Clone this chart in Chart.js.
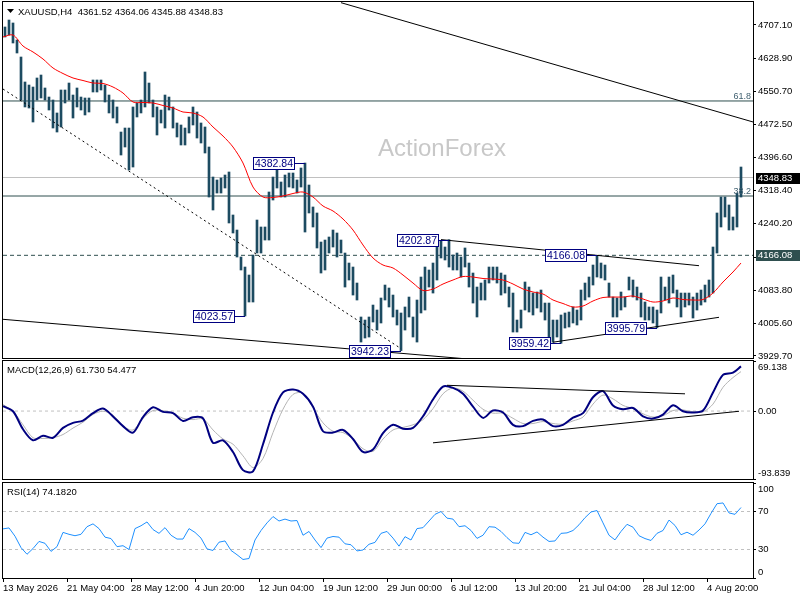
<!DOCTYPE html>
<html>
<head>
<meta charset="utf-8">
<script src="https://cdn.jsdelivr.net/npm/chart.js@4.4.1/dist/chart.umd.min.js"></script>
<style>
  html, body { margin: 0; padding: 0; background: #fff; }
  #wrap { position: relative; width: 800px; height: 600px; overflow: hidden; }
  canvas { position: absolute; left: 0; }
</style>
</head>
<body>
<div id="wrap">
  <canvas id="price" width="800" height="360" style="top:0px"></canvas>
  <canvas id="macd" width="800" height="122" style="top:360px"></canvas>
  <canvas id="rsi" width="800" height="118" style="top:482px"></canvas>
</div>
<script>
const FONT = '"Liberation Sans", Arial, sans-serif';
const BAR_COLOR = '#1d4b61';
const SLATE = '#2f4f4f';
const NAVY = '#000080';

// time axis: one label every 32 H4 bars
const timeLabels = ['13 May 2026', '21 May 04:00', '28 May 12:00', '4 Jun 20:00', '12 Jun 04:00',
  '19 Jun 12:00', '29 Jun 00:00', '6 Jul 12:00', '13 Jul 20:00', '21 Jul 04:00', '28 Jul 12:00', '4 Aug 20:00'];
const LABEL_EVERY = 32;
const LAST_BAR = 369;
const X_MAX = 375;

// price bars, each one covers two H4 bars (bar index 2k+1)
const barHigh = [4702.4, 4718.8, 4711.8, 4671.8, 4631.9, 4573.2, 4566.1, 4561.4, 4582.6, 4589.6,
  4559.1, 4537.9, 4530.9, 4500.4, 4554.4, 4554.4, 4570.8, 4542.6, 4559.1, 4537.9,
  4535.6, 4535.6, 4577.9, 4577.9, 4577.9, 4566.1, 4542.6, 4530.9, 4514.5, 4455.7,
  4465.1, 4465.1, 4514.5, 4523.9, 4530.9, 4596.7, 4570.8, 4530.9, 4514.5, 4507.4,
  4542.6, 4537.9, 4514.5, 4476.9, 4472.2, 4465.1, 4491.0, 4514.5, 4502.7, 4476.9,
  4467.5, 4420.5, 4350.0, 4343.0, 4347.7, 4354.7, 4361.8, 4260.8, 4225.5, 4162.1,
  4138.6, 4119.8, 4166.8, 4249.0, 4232.6, 4232.6, 4314.8, 4350.0, 4371.2, 4338.3,
  4354.7, 4359.4, 4359.4, 4343.0, 4371.2, 4382.84, 4331.2, 4279.6, 4265.5, 4197.3,
  4202.0, 4209.1, 4225.5, 4218.5, 4202.0, 4171.5, 4148.0, 4138.6, 4101.0, 4021.2,
  4014.1, 4021.2, 4049.3, 4037.6, 4065.8, 4096.3, 4089.3, 4072.8, 4037.6, 4030.6,
  4044.7, 4068.1, 4021.2, 4061.1, 4115.1, 4138.6, 4131.6, 4148.0, 4190.3, 4200.5,
  4185.6, 4202.87, 4166.8, 4171.5, 4162.1, 4183.3, 4148.0, 4124.5, 4091.6, 4101.0,
  4108.1, 4138.6, 4138.6, 4138.6, 4124.5, 4119.8, 4091.6, 4077.5, 4014.1, 4037.6,
  4103.4, 4091.6, 4077.5, 4079.9, 4084.6, 4054.0, 4054.0, 4014.1, 4014.1, 4025.9,
  4030.6, 4032.9, 4044.7, 4037.6, 4084.6, 4101.0, 4115.1, 4143.3, 4166.08, 4148.0,
  4143.3, 4101.0, 4068.1, 4065.8, 4079.9, 4068.1, 4115.1, 4108.1, 4091.6, 4077.5,
  4056.4, 4044.7, 4044.7, 4037.6, 4115.1, 4091.6, 4115.1, 4119.8, 4084.6, 4077.5,
  4077.5, 4077.5, 4068.1, 4077.5, 4084.6, 4096.3, 4108.1, 4185.6, 4265.5, 4303.0,
  4303.0, 4284.3, 4256.1, 4312.4, 4373.5];
const barLow = [4678.9, 4683.6, 4664.8, 4641.3, 4530.9, 4514.5, 4512.1, 4479.2, 4530.9, 4535.6,
  4530.9, 4507.4, 4465.1, 4455.7, 4467.5, 4523.9, 4530.9, 4488.6, 4514.5, 4507.4,
  4495.7, 4502.7, 4549.7, 4549.7, 4554.4, 4526.2, 4500.4, 4488.6, 4476.9, 4401.7,
  4420.5, 4366.5, 4373.5, 4491.0, 4500.4, 4514.5, 4523.9, 4491.0, 4448.7, 4476.9,
  4465.1, 4507.4, 4465.1, 4444.0, 4425.2, 4425.2, 4453.4, 4472.2, 4441.6, 4429.9,
  4406.4, 4303.0, 4272.5, 4312.4, 4312.4, 4324.2, 4242.0, 4218.5, 4162.1, 4131.6,
  4023.57, 4056.4, 4056.4, 4171.5, 4171.5, 4202.0, 4202.0, 4296.0, 4324.2, 4303.0,
  4303.0, 4326.5, 4324.2, 4312.4, 4326.5, 4220.8, 4265.5, 4232.6, 4183.3, 4124.5,
  4131.6, 4171.5, 4185.6, 4162.1, 4171.5, 4091.6, 4108.1, 4072.8, 4061.1, 3962.4,
  3971.8, 3974.2, 4009.4, 3990.6, 4007.1, 4061.1, 4044.7, 4021.2, 4002.4, 3942.23,
  3990.6, 4021.2, 3974.2, 3962.4, 4030.6, 4037.6, 4091.6, 4077.5, 4108.1, 4159.8,
  4155.1, 4138.6, 4131.6, 4131.6, 4115.1, 4138.6, 4091.6, 4054.0, 4021.2, 4061.1,
  4061.1, 4101.0, 4108.1, 4101.0, 4072.8, 4077.5, 4044.7, 3985.9, 3985.9, 3995.3,
  4037.6, 4032.9, 4025.9, 4042.3, 4032.9, 4014.1, 3974.2, 3962.0, 3974.2, 3959.42,
  3995.3, 3997.7, 4007.1, 4002.4, 4014.1, 4061.1, 4068.1, 4096.3, 4115.1, 4112.8,
  4108.1, 4068.1, 4021.2, 4021.2, 4037.6, 4044.7, 4084.6, 4068.1, 4061.1, 4021.2,
  4014.1, 4014.1, 4007.1, 3995.79, 4030.6, 4061.1, 4054.0, 4077.5, 4044.7, 4021.2,
  4044.7, 4049.3, 4018.8, 4037.6, 4049.3, 4056.4, 4068.1, 4077.5, 4171.5, 4232.6,
  4256.1, 4225.5, 4225.5, 4232.6, 4303.0];
const lastBar = { open: 4361.52, high: 4364.06, low: 4345.88, close: 4348.83 };

// moving average, MACD and signal: every 5 bars
const maValues = [4678.9, 4683.6, 4657.7, 4643.7, 4627.2, 4606.1, 4593.1, 4582.6, 4576.7, 4570.8,
  4569.7, 4561.4, 4547.3, 4526.2, 4525.0, 4523.9, 4518.0, 4512.1, 4502.7, 4500.4,
  4491.0, 4467.5, 4446.3, 4420.5, 4382.9, 4326.5, 4303.0, 4301.9, 4305.4, 4311.3,
  4314.8, 4303.0, 4281.9, 4270.2, 4251.4, 4225.5, 4190.3, 4159.8, 4143.3, 4136.3,
  4119.8, 4101.0, 4083.4, 4087.0, 4098.7, 4108.1, 4116.3, 4115.1, 4111.6, 4110.4,
  4108.1, 4098.7, 4087.0, 4079.9, 4075.2, 4061.1, 4052.9, 4044.7, 4047.0, 4058.8,
  4067.0, 4068.1, 4068.1, 4070.5, 4063.5, 4056.4, 4058.8, 4065.8, 4062.3, 4061.1,
  4062.3, 4077.5, 4103.4, 4126.9, 4148.0];
const macdMain = [6.7, -0.3, -25.2, -40.4, -34.2, -36.9, -23.2, -16.3, -13.1, -2.9,
  3.4, -7.4, -20.8, -29.7, -8.3, 5.2, -1.1, -2.9, -13.6, -8.5,
  -10.0, -43.9, -40.4, -56.5, -81.6, -83.3, -45.8, -2.0, 25.7, 29.7,
  23.9, 6.1, -27.9, -29.7, -26.1, -38.6, -56.5, -53.0, -30.6, -19.0,
  -24.3, -23.2, -7.2, 15.9, 33.8, 32.0, 23.9, 6.1, -9.4, 0.7,
  -2.0, -19.0, -20.8, -13.6, -11.7, -20.8, -19.0, -9.1, -2.9, 19.1,
  27.5, 7.8, 2.5, 4.3, -7.2, -10.4, -4.9, 8.0, -0.3, -2.0,
  0.7, 25.7, 50.0, 53.0, 61.73];
const macdSignal = [9.0, -0.2, -19.0, -36.9, -37.8, -36.9, -32.4, -23.5, -15.4, -4.7,
  -0.2, -5.6, -20.8, -26.1, -10.0, 0.7, 0.7, -2.9, -10.0, -11.8,
  -10.9, -26.1, -38.6, -45.8, -61.9, -78.0, -65.5, -29.7, 2.5, 23.0,
  24.8, 4.3, -16.3, -27.9, -29.7, -38.6, -52.1, -55.6, -38.6, -26.1,
  -22.6, -19.0, -11.8, 3.4, 23.9, 32.0, 27.5, 15.0, 2.5, -2.9,
  -2.9, -10.0, -17.2, -17.2, -14.5, -17.2, -18.1, -13.6, -8.3, 9.6,
  22.1, 16.8, 7.8, 3.4, -3.8, -8.3, -6.5, 0.7, 1.6, -1.1,
  -1.1, 9.6, 32.9, 46.3, 54.477];
const macdTop = 69.138, macdBottom = -93.839;

// RSI(14): every 3 bars
const rsiValues = [51.7, 52.7, 44, 32, 25, 31, 38.5, 36.5, 28, 33,
  48, 46, 44.5, 46, 54, 57, 52, 43, 41.5, 33,
  34, 30, 52, 55, 59, 51, 47, 53, 45, 41,
  41, 52, 48, 42, 30.6, 29, 37.7, 39, 29, 24.5,
  19.5, 20.5, 40, 50, 58, 64.7, 60, 62, 60, 60.5,
  45, 49, 40, 32, 42, 43.7, 43, 36, 35, 28.5,
  29.5, 35.5, 37.5, 47, 49, 42, 33.5, 43.5, 40, 52,
  53, 60, 67, 70, 63, 62, 54, 55, 50, 41.7,
  45, 54, 53.5, 49, 42.5, 37, 36.5, 48, 45.5, 48.5,
  43, 38.5, 39, 47, 47.5, 50, 56, 63.5, 69.5, 71,
  58, 45, 40.1, 49, 56.5, 53.5, 44.5, 41.5, 39.5, 47,
  50, 61, 55.3, 45.5, 48.2, 45, 50.5, 57, 68, 78.2,
  79, 68.5, 67, 74.182];
const rsiLevels = [30, 70];

const priceMin = 3924.9, priceMax = 4761.1;
const priceTicks = [4707.10, 4628.90, 4550.70, 4472.50, 4396.60, 4318.40, 4240.20, 4162.00, 4083.80, 4005.60, 3929.70];
const fibLevels = [{ label: '61.8', price: 4528.6 }, { label: '38.2', price: 4305.4 }];
const keyLevel = 4166.08;
const swingLabels = [
  { bar: 151, price: 4382.84 }, { bar: 121, price: 4023.57 }, { bar: 223, price: 4202.87 },
  { bar: 199, price: 3942.23 }, { bar: 297, price: 4166.08 }, { bar: 279, price: 3959.42 },
  { bar: 327, price: 3995.79 }
];
const priceTrendlines = [
  { from: [169, 4759.5], to: [375, 4479.3] },
  { from: [0, 4556.7], to: [199, 3947.0], dotted: true },
  { from: [0, 4015.8], to: [230, 3923.5] },
  { from: [219, 4203.0], to: [348, 4141.7] },
  { from: [275, 3962.0], to: [358, 4020.5] }
];
const macdTrendlines = [
  { from: [222, 35.6], to: [341, 23.8] },
  { from: [215, -43.9], to: [368, -0.3] }
];

Chart.defaults.font.family = FONT;
Chart.defaults.font.size = 9.5;
Chart.defaults.color = '#000';
Chart.defaults.animation = false;
Chart.defaults.responsive = false;
Chart.defaults.devicePixelRatio = 1;
Chart.defaults.plugins.legend.display = false;
Chart.defaults.plugins.tooltip.enabled = false;
Chart.defaults.elements.point.radius = 0;
Chart.defaults.elements.line.borderWidth = 1;

function xAxis(withLabels) {
  return {
    type: 'linear', min: 0, max: X_MAX, offset: false, display: withLabels,
    afterBuildTicks: s => { s.ticks = timeLabels.map((t, n) => ({ value: n * LABEL_EVERY })); },
    afterFit: s => { s.paddingLeft = 0; s.paddingRight = 0; if (withLabels) s.height = 22; },
    grid: { drawOnChartArea: false, offset: false, tickLength: 4, color: '#000' },
    border: { display: false },
    ticks: { align: 'start', autoSkip: false, maxRotation: 0, padding: 1, callback: (v, n) => timeLabels[n] }
  };
}

function yAxis(min, max, values, label) {
  return {
    position: 'right', min: min, max: max,
    afterBuildTicks: s => { s.ticks = values.slice().sort((p, q) => p - q).map(v => ({ value: v })); },
    afterFit: s => { s.width = 47; s.paddingTop = 0; s.paddingBottom = 0; },
    grid: { drawOnChartArea: false, tickLength: 3, color: '#000' },
    border: { display: false },
    ticks: { padding: 2, callback: label }
  };
}

function level(value, color, dash) {
  return { type: 'line', data: [{ x: 0, y: value }, { x: X_MAX, y: value }],
    borderColor: color, borderDash: dash, order: 5 };
}

function trend(t) {
  return { type: 'line', data: [{ x: t.from[0], y: t.from[1] }, { x: t.to[0], y: t.to[1] }],
    borderColor: '#000', borderDash: t.dotted ? [2, 3] : [], order: 1 };
}

function frame(ctx, a) {
  ctx.strokeStyle = '#000';
  ctx.lineWidth = 1;
  ctx.strokeRect(a.left - 0.5, a.top - 0.5, a.width + 1, a.height + 1);
}

const priceDecor = {
  id: 'priceDecor',
  beforeDatasetsDraw(chart) {
    const { ctx, chartArea: a } = chart;
    ctx.save();
    ctx.font = '24px ' + FONT;
    ctx.fillStyle = '#c8c8c8';
    ctx.fillText('ActionForex', a.left + 375, a.top + 154);
    ctx.restore();
  },
  afterDraw(chart) {
    const { ctx, chartArea: a, scales: { x, y } } = chart;
    ctx.save();
    frame(ctx, a);

    // header
    ctx.fillStyle = '#000';
    ctx.beginPath();
    ctx.moveTo(a.left + 4, a.top + 7);
    ctx.lineTo(a.left + 11, a.top + 7);
    ctx.lineTo(a.left + 7.5, a.top + 11);
    ctx.closePath();
    ctx.fill();
    ctx.font = '9.5px ' + FONT;
    ctx.textBaseline = 'alphabetic';
    const ohlc = [lastBar.open, lastBar.high, lastBar.low, lastBar.close].map(v => v.toFixed(2)).join(' ');
    ctx.fillText('XAUUSD,H4  ' + ohlc, a.left + 15, a.top + 12.5);

    // fibo level names
    ctx.font = '9px ' + FONT;
    ctx.fillStyle = '#3f5f6f';
    ctx.textAlign = 'right';
    fibLevels.forEach(f => ctx.fillText(f.label, a.right - 2, y.getPixelForValue(f.price) - 2));

    // swing high / low boxes
    ctx.font = '10.5px ' + FONT;
    ctx.textAlign = 'center';
    ctx.textBaseline = 'middle';
    ctx.lineWidth = 1;
    swingLabels.forEach(s => {
      const px = Math.round(x.getPixelForValue(s.bar));
      const py = Math.round(y.getPixelForValue(s.price));
      const text = s.price.toFixed(2);
      const w = Math.round(ctx.measureText(text).width) + 4;
      const right = px - 10;
      ctx.strokeStyle = NAVY;
      ctx.beginPath();
      ctx.moveTo(right, py + 0.5);
      ctx.lineTo(px, py + 0.5);
      ctx.stroke();
      ctx.fillStyle = '#fff';
      ctx.fillRect(right - w, py - 6, w, 12);
      ctx.strokeRect(right - w + 0.5, py - 5.5, w - 1, 12);
      ctx.fillStyle = NAVY;
      ctx.fillText(text, right - w / 2, py + 1);
    });

    // price marks on the right axis
    ctx.font = '9.5px ' + FONT;
    ctx.textAlign = 'left';
    [[lastBar.close, '#000'], [keyLevel, SLATE]].forEach(([v, bg]) => {
      const py = Math.round(y.getPixelForValue(v));
      ctx.fillStyle = bg;
      ctx.fillRect(a.right + 3, py - 5, chart.width - a.right - 3, 11);
      ctx.fillStyle = '#fff';
      ctx.fillText(v.toFixed(2), a.right + 5, py + 0.5);
    });
    ctx.restore();
  }
};

function panelDecor(id, title, edges) {
  return {
    id: id,
    afterDraw(chart) {
      const { ctx, chartArea: a } = chart;
      ctx.save();
      frame(ctx, a);
      ctx.fillStyle = '#000';
      ctx.font = '9.5px ' + FONT;
      ctx.textAlign = 'left';
      ctx.textBaseline = 'alphabetic';
      ctx.fillText(title, a.left + 4, a.top + 12.3);
      ctx.textBaseline = 'middle';
      ctx.fillText(edges[0], a.right + 5, a.top + 6.7);
      ctx.fillText(edges[1], a.right + 5, a.bottom - 5.5);
      ctx.restore();
    }
  };
}

// price panel
new Chart(document.getElementById('price'), {
  type: 'bar',
  data: {
    datasets: [
      ...fibLevels.map(f => level(f.price, SLATE, [])),
      level(keyLevel, SLATE, [4, 3]),
      level(lastBar.close, '#c0c0c0', []),
      { type: 'bar', data: barLow.map((lo, k) => ({ x: 2 * k + 1, y: [lo, barHigh[k]] })),
        backgroundColor: BAR_COLOR, barThickness: 2, borderWidth: 0, order: 3 },
      { type: 'line', data: maValues.map((v, j) => ({ x: Math.min(j * 5, LAST_BAR), y: v })),
        borderColor: '#ff0000', tension: 0.3, order: 2 },
      ...priceTrendlines.map(trend)
    ]
  },
  options: {
    layout: { padding: { left: 3, top: 2, right: 0, bottom: 2 } },
    scales: {
      x: xAxis(false),
      y: yAxis(priceMin, priceMax, priceTicks, v => v.toFixed(2))
    }
  },
  plugins: [priceDecor]
});

// MACD panel
new Chart(document.getElementById('macd'), {
  type: 'line',
  data: {
    datasets: [
      level(0, '#c0c0c0', [3, 3]),
      { data: macdSignal.map((v, j) => ({ x: Math.min(j * 5, LAST_BAR), y: v })),
        borderColor: '#b4b4b4', tension: 0.3, order: 3 },
      { data: macdMain.map((v, j) => ({ x: Math.min(j * 5, LAST_BAR), y: v })),
        borderColor: NAVY, borderWidth: 2, tension: 0.3, order: 2 },
      ...macdTrendlines.map(trend)
    ]
  },
  options: {
    layout: { padding: { left: 3, top: 1, right: 0, bottom: 3 } },
    scales: {
      x: xAxis(false),
      y: yAxis(macdBottom, macdTop, [macdBottom, 0, macdTop], v => (v === 0 ? '0.00' : ''))
    }
  },
  plugins: [panelDecor('macdDecor',
    'MACD(12,26,9) ' + macdMain[macdMain.length - 1].toFixed(3) + ' ' + macdSignal[macdSignal.length - 1].toFixed(3),
    [macdTop.toFixed(3), macdBottom.toFixed(3)])]
});

// RSI panel
new Chart(document.getElementById('rsi'), {
  type: 'line',
  data: {
    datasets: [
      ...rsiLevels.map(v => level(v, '#c0c0c0', [3, 3])),
      { data: rsiValues.map((v, m) => ({ x: m * 3, y: v })), borderColor: '#1e90ff', order: 2 }
    ]
  },
  options: {
    layout: { padding: { left: 3, top: 1, right: 0, bottom: 0 } },
    scales: {
      x: xAxis(true),
      y: yAxis(0, 100, [0, 30, 70, 100], v => (rsiLevels.includes(v) ? String(v) : ''))
    }
  },
  plugins: [panelDecor('rsiDecor', 'RSI(14) ' + rsiValues[rsiValues.length - 1].toFixed(4), ['100', '0'])]
});
</script>
</body>
</html>
